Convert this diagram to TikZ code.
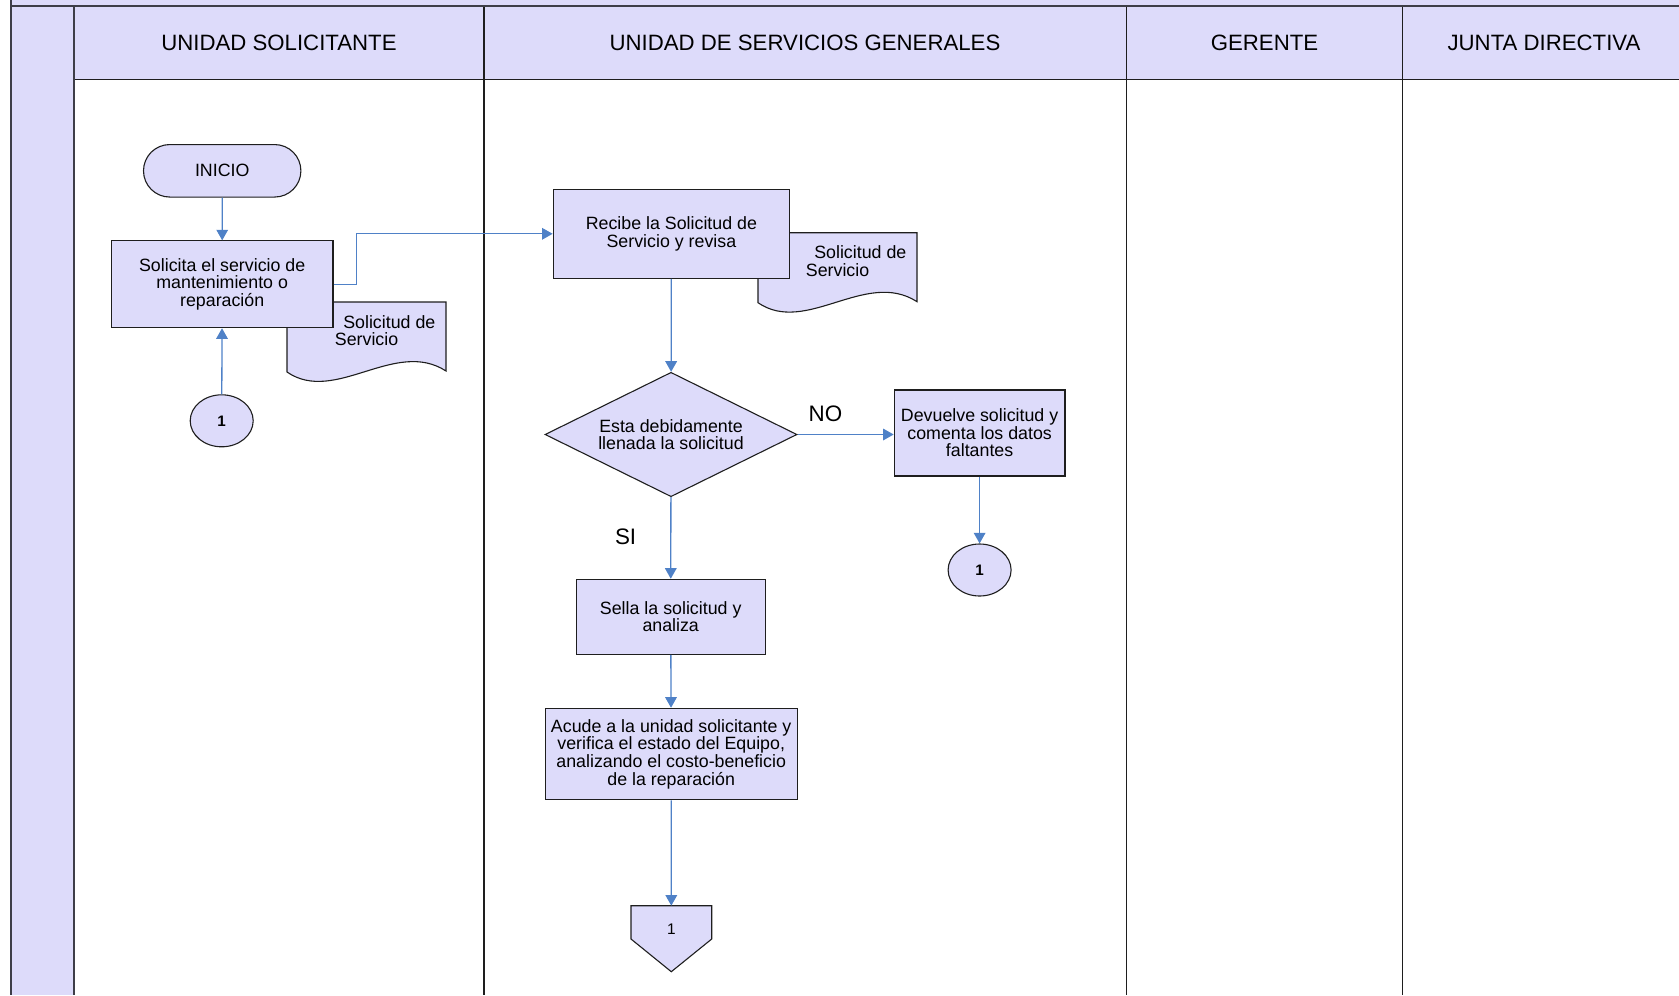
\documentclass[tikz,border=0pt]{standalone}
\usepackage{fontspec}
\setmainfont{Liberation Sans}
\usetikzlibrary{arrows.meta,shapes.geometric,shapes.misc,positioning}
\definecolor{lila}{RGB}{221,219,250}
\definecolor{marco}{RGB}{62,62,72}
\definecolor{trazo}{RGB}{30,30,30}
\definecolor{azul}{RGB}{79,129,199}
\newcommand{\hoja}[3]{%
  \begin{scope}[shift={(#1,#2)}]
    \draw[forma] (0,0) -- (159,0) -- (159,69) .. controls (108,36) and (48,103) .. (0,70) -- cycle;
    \node[texto,anchor=west,align=left] (#3) at (47.5,28.7) {\hspace*{4.2pt}Solicitud de\\Servicio};
  \end{scope}}

\begin{document}
\begin{tikzpicture}[x=0.5pt,y=-0.5pt,>={Triangle[length=5.3pt,width=5.8pt]},
  texto/.style={font=\fontsize{8.9}{8.8}\selectfont,inner sep=0pt},
  forma/.style={draw=trazo,fill=lila,line width=0.55pt},
  proceso/.style={forma,texto,rectangle,align=center},
  terminal/.style={forma,texto,rounded rectangle,minimum width=78.7pt,minimum height=26.25pt},
  decision/.style={forma,texto,diamond,aspect=2,align=center,minimum width=126pt,minimum height=62.2pt},
  conector/.style={forma,ellipse,inner sep=0pt,minimum width=31.5pt,minimum height=26pt,font=\fontsize{7.6}{8}\selectfont\bfseries},
  carril/.style={font=\fontsize{11.1}{13}\selectfont,inner sep=0pt},
  rotulo/.style={font=\fontsize{11.2}{13}\selectfont,inner sep=0pt},
  flecha/.style={->,draw=azul,line width=0.65pt}]
  \useasboundingbox (0,0) rectangle (1679,995);
  \fill[lila] (11,0) rectangle (1679,6);
  \fill[lila] (11,6) rectangle (74,995);
  \fill[lila] (74,6) rectangle (1679,80);
  \draw[trazo,line width=0.5pt] (74,80) -- (1679,80);
  \foreach \x in {484,1126.5,1402.7} \draw[trazo,line width=0.6pt] (\x,6) -- (\x,995);
  \draw[marco,line width=1pt] (11,0) -- (11,995);
  \draw[marco,line width=1pt] (11,6.5) -- (1679,6.5);
  \draw[marco,line width=0.9pt] (73.7,6.5) -- (73.7,995);

  \node[carril] (hUS) at (279,42.8) {UNIDAD SOLICITANTE};
  \node[carril] (hUSG) at (805,42.8) {UNIDAD DE SERVICIOS GENERALES};
  \node[carril] (hGer) at (1264.5,42.8) {GERENTE};
  \node[carril] (hJD) at (1544,42.8) {JUNTA DIRECTIVA};

  \hoja{287}{302}{docA}
  \hoja{758}{232.7}{docB}
  \node[terminal] (inicio) at (222.2,170.8) {INICIO};
  \node[proceso,minimum width=110.8pt,minimum height=43.4pt] (solicita) at (222.2,284.3) {Solicita el servicio de\\mantenimiento o\\reparación};
  \node[conector] (volverA) at (221.7,420.8) {1};
  \node[proceso,minimum width=118.2pt,minimum height=44.5pt] (recibe) at (671.4,233.8) {Recibe la Solicitud de\\Servicio y revisa};
  \node[decision] (revision) at (671,434.5) {Esta debidamente\\llenada la solicitud};
  \node[proceso,minimum width=85.35pt,minimum height=43pt] (devuelve) at (979.6,433) {Devuelve solicitud y\\comenta los datos\\faltantes};
  \node[conector] (volverB) at (979.6,570) {1};
  \node[proceso,minimum width=94.65pt,minimum height=37.5pt] (sella) at (670.7,616.8) {Sella la solicitud y\\analiza};
  \node[proceso,minimum width=126.15pt,minimum height=45.7pt] (acude) at (671.2,754) {Acude a la unidad solicitante y\\verifica el estado del Equipo,\\analizando el costo-beneficio\\de la reparación};
  \draw[forma] (631,905.7) -- (711.7,905.7) -- (711.7,939) -- (671.3,971.7) -- (631,939) -- cycle;
  \node[texto,font=\fontsize{7.7}{8}\selectfont] (salida) at (671.3,929.3) {1};
  \coordinate (salidaArriba) at (671.3,905.7);

  \draw[flecha] (inicio) -- (solicita);
  \draw[flecha] (volverA) -- (solicita);
  \draw[flecha] (solicita.east) -- ++(23,0) |- (recibe.west);
  \draw[flecha] (recibe) -- (revision);
  \draw[flecha] (revision.east) -- node[rotulo,pos=0.29,above=6pt]{NO} (revision.east -| devuelve.west);
  \draw[flecha] (revision) -- node[rotulo,pos=0.48,left=17pt]{SI} (sella);
  \draw[flecha] (devuelve) -- (volverB);
  \draw[flecha] (sella) -- (acude);
  \draw[flecha] (acude) -- (salidaArriba);
\end{tikzpicture}
\end{document}
